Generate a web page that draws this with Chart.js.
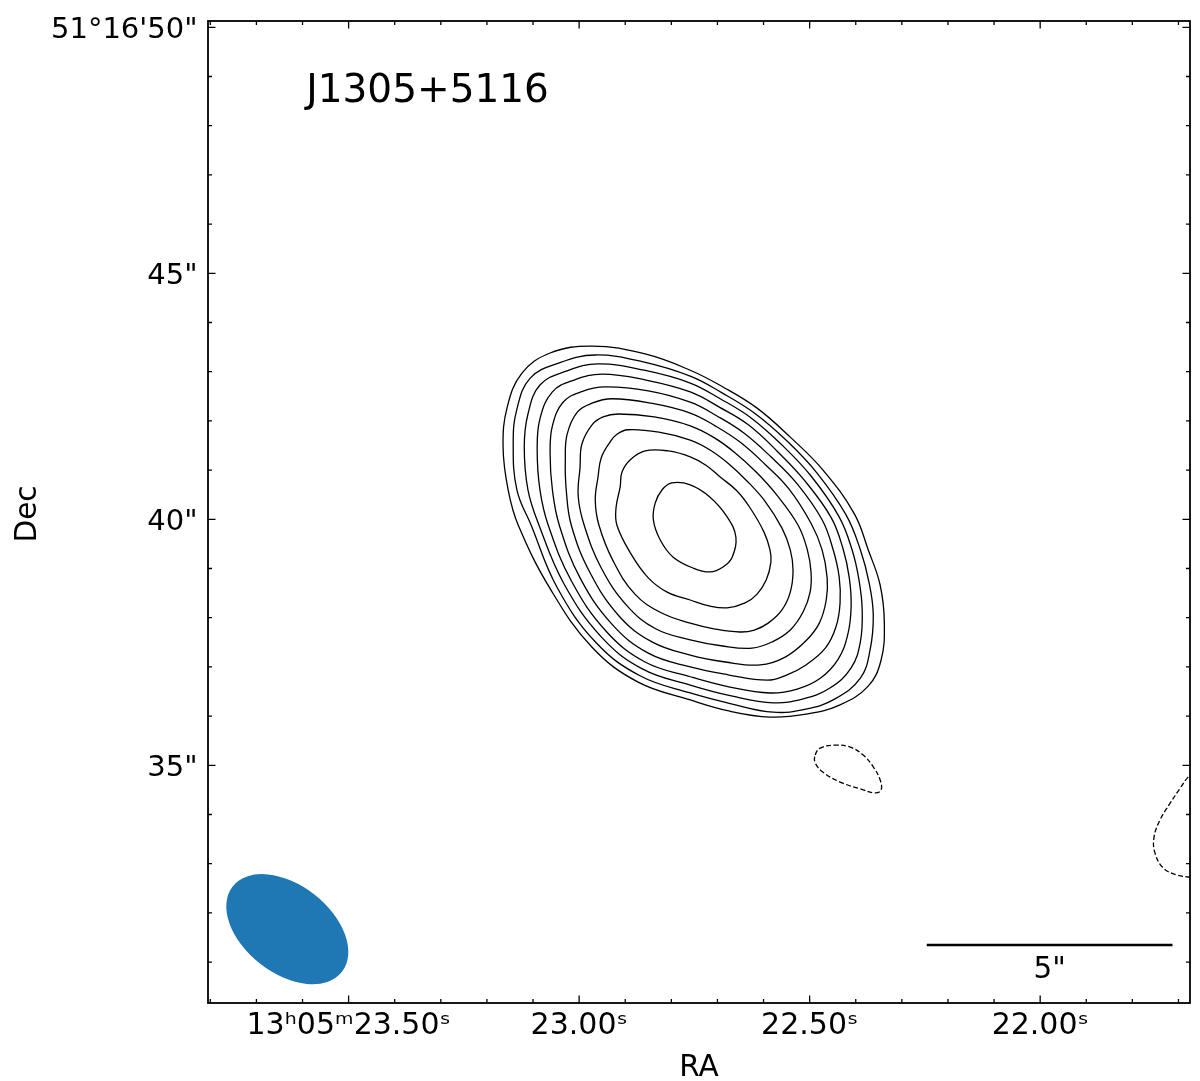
<!DOCTYPE html>
<html>
<head>
<meta charset="utf-8">
<title>J1305+5116</title>
<script src="https://cdn.jsdelivr.net/npm/chart.js@4.4.1/dist/chart.umd.min.js"></script>
<style>
  html, body { margin: 0; padding: 0; background: #fff; }
  #wrap { position: relative; width: 1200px; height: 1081px; }
</style>
</head>
<body>
<div id="wrap"><canvas id="map"></canvas></div>
<script>
// Map window: RA in seconds after 13h05m, Dec in arcsec after 51°16'
const raMin = 21.675, raMax = 23.805;
const decMin = 30.169, decMax = 50.128;

// Tick marks and labels
const raTickValues = [23.5, 23.0, 22.5, 22.0];
const raTickLabels = ['13ʰ05ᵐ23.50ˢ', '23.00ˢ', '22.50ˢ', '22.00ˢ'];
const raMinorStep = 0.1;
const decTickValues = [50, 45, 40, 35];
const decTickLabels = ['51°16\'50"', '45"', '40"', '35"'];
const decMinorStep = 1;

const sourceName = 'J1305+5116';

// Restoring beam (FWHM, arcsec) and where it is drawn
const beamMajor = 2.82, beamMinor = 1.79, beamPA = 52;
const beamRA = 23.633, beamDec = 31.67;

// 5" scale bar
const scaleBarRA = [22.246, 21.713];
const scaleBarDec = 31.35;
const scaleBarLabel = '5"';

// Positive contours, outermost first: [RA s, Dec "]
const contour1 = [[23.165,41.47],[23.156,42.28],[23.124,42.97],[23.063,43.38],[22.972,43.52],[22.857,43.36],[22.759,43.03],[22.688,42.69],[22.614,42.26],[22.542,41.67],[22.471,41.00],[22.403,40.11],[22.373,39.38],[22.347,38.66],[22.338,37.89],[22.345,37.14],[22.373,36.61],[22.434,36.23],[22.508,36.04],[22.586,35.98],[22.673,36.10],[22.759,36.33],[22.872,36.69],[22.972,37.40],[23.061,38.56],[23.132,39.88],[23.154,40.60]];
const contour2 = [[23.143,41.55],[23.135,42.24],[23.106,42.87],[23.043,43.18],[22.965,43.34],[22.861,43.20],[22.759,42.91],[22.690,42.57],[22.620,42.16],[22.549,41.59],[22.484,40.94],[22.421,40.09],[22.390,39.38],[22.371,38.71],[22.362,38.06],[22.369,37.34],[22.390,36.77],[22.445,36.35],[22.508,36.14],[22.579,36.08],[22.670,36.25],[22.759,36.47],[22.868,36.82],[22.963,37.49],[23.048,38.62],[23.104,39.88],[23.135,40.60]];
const contour3 = [[23.119,41.47],[23.111,42.14],[23.085,42.73],[23.028,43.01],[22.959,43.16],[22.859,43.03],[22.759,42.77],[22.694,42.45],[22.627,42.06],[22.560,41.51],[22.497,40.88],[22.436,40.05],[22.408,39.38],[22.393,38.77],[22.386,38.16],[22.390,37.51],[22.410,36.98],[22.456,36.57],[22.514,36.35],[22.579,36.27],[22.670,36.41],[22.759,36.63],[22.863,36.96],[22.952,37.61],[23.033,38.69],[23.087,39.88],[23.111,40.60]];
const contour4 = [[23.091,41.41],[23.085,42.04],[23.058,42.59],[23.011,42.83],[22.950,42.95],[22.855,42.83],[22.759,42.59],[22.696,42.28],[22.633,41.92],[22.571,41.39],[22.512,40.80],[22.453,40.03],[22.427,39.38],[22.414,38.81],[22.410,38.24],[22.417,37.67],[22.438,37.16],[22.477,36.77],[22.527,36.55],[22.586,36.47],[22.673,36.59],[22.759,36.80],[22.857,37.10],[22.942,37.73],[23.017,38.75],[23.067,39.88],[23.085,40.60]];
const contour5 = [[23.063,41.35],[23.058,41.90],[23.035,42.38],[22.996,42.59],[22.944,42.69],[22.850,42.61],[22.759,42.38],[22.701,42.10],[22.642,41.75],[22.584,41.27],[22.527,40.72],[22.473,39.99],[22.449,39.38],[22.436,38.83],[22.434,38.30],[22.443,37.81],[22.466,37.38],[22.508,37.04],[22.549,36.84],[22.592,36.73],[22.677,36.84],[22.759,37.00],[22.850,37.28],[22.929,37.87],[22.998,38.81],[23.043,39.88],[23.058,40.60]];
const contour6 = [[23.030,41.21],[23.026,41.73],[23.004,42.18],[22.972,42.36],[22.929,42.45],[22.844,42.36],[22.759,42.16],[22.705,41.90],[22.651,41.57],[22.597,41.12],[22.545,40.62],[22.497,39.92],[22.473,39.38],[22.462,38.81],[22.464,38.36],[22.479,37.89],[22.508,37.53],[22.553,37.20],[22.607,37.04],[22.683,37.10],[22.759,37.24],[22.842,37.51],[22.913,38.03],[22.976,38.91],[23.017,39.88],[23.028,40.60]];
const contour7 = [[22.998,41.06],[22.994,41.53],[22.972,41.92],[22.948,42.08],[22.915,42.14],[22.837,42.08],[22.759,41.90],[22.709,41.67],[22.664,41.37],[22.616,40.96],[22.571,40.49],[22.525,39.88],[22.505,39.38],[22.497,38.93],[22.499,38.52],[22.514,38.12],[22.542,37.75],[22.581,37.51],[22.625,37.38],[22.692,37.43],[22.759,37.55],[22.833,37.77],[22.896,38.24],[22.952,39.01],[22.989,39.88],[23.002,40.47]];
const contour8 = [[22.959,40.86],[22.952,41.25],[22.933,41.57],[22.918,41.73],[22.894,41.82],[22.827,41.77],[22.759,41.61],[22.716,41.41],[22.677,41.14],[22.636,40.78],[22.597,40.37],[22.560,39.82],[22.542,39.38],[22.536,38.97],[22.542,38.52],[22.560,38.16],[22.590,37.89],[22.620,37.75],[22.651,37.71],[22.705,37.77],[22.759,37.89],[22.822,38.10],[22.879,38.48],[22.926,39.15],[22.957,39.88],[22.965,40.39]];
const contour9 = [[22.911,40.66],[22.907,40.96],[22.889,41.21],[22.857,41.39],[22.807,41.39],[22.759,41.27],[22.725,41.10],[22.694,40.86],[22.658,40.58],[22.629,40.23],[22.599,39.74],[22.586,39.38],[22.584,39.13],[22.594,38.77],[22.614,38.48],[22.640,38.30],[22.679,38.20],[22.718,38.24],[22.759,38.36],[22.809,38.52],[22.850,38.81],[22.889,39.32],[22.918,39.88],[22.920,40.23]];
const contour10 = [[22.839,39.99],[22.835,40.33],[22.820,40.60],[22.799,40.74],[22.759,40.70],[22.716,40.45],[22.679,40.05],[22.660,39.64],[22.668,39.23],[22.688,39.03],[22.716,38.93],[22.753,39.01],[22.796,39.23],[22.824,39.58]];

// Negative contours (dashed)
const negContour1 = [[22.488,35.21],[22.477,35.35],[22.445,35.41],[22.412,35.37],[22.384,35.21],[22.362,34.97],[22.347,34.70],[22.345,34.50],[22.358,34.44],[22.390,34.52],[22.434,34.66],[22.471,34.86],[22.488,35.05]];
// runs off the east edge of the map
const negContour2 = [[21.653,34.95],[21.679,34.76],[21.696,34.54],[21.718,34.23],[21.740,33.89],[21.753,33.54],[21.751,33.22],[21.733,32.91],[21.703,32.77],[21.679,32.73],[21.653,32.71]];

const positiveContours = [contour1, contour2, contour3, contour4, contour5, contour6, contour7, contour8, contour9, contour10];

const FONT = '"DejaVu Sans", "Liberation Sans", sans-serif';

function toXY(pts) {
  return pts.map(p => ({ x: p[0], y: p[1] }));
}

// wrap the ring so every visible point gets proper neighbours for the spline,
// then hide the two helper segments at the ends
function contourDataset(pts, closed, dashed) {
  const ring = closed ? [pts[pts.length - 1], ...pts, pts[0], pts[1]] : pts;
  const data = toXY(ring);
  const last = data.length - 1;
  const ds = {
    data,
    showLine: true,
    pointRadius: 0,
    borderColor: '#000',
    borderWidth: 1.3,
    borderDash: dashed ? [5, 2.5] : [],
    tension: 0.4
  };
  if (closed) {
    ds.segment = {
      borderColor: c => (c.p0DataIndex === 0 || c.p1DataIndex === last) ? 'rgba(0,0,0,0)' : '#000'
    };
  }
  return ds;
}

const datasets = [
  ...positiveContours.map(c => contourDataset(c, true, false)),
  contourDataset(negContour1, true, true),
  contourDataset(negContour2, false, true),
  {
    data: scaleBarRA.map(r => ({ x: r, y: scaleBarDec })),
    showLine: true,
    pointRadius: 0,
    borderColor: '#000',
    borderWidth: 2.5,
    tension: 0
  }
];

const skyFrame = {
  id: 'skyFrame',
  beforeDatasetsDraw(chart) {
    const { ctx, scales: { x, y } } = chart;
    const cx = x.getPixelForValue(beamRA);
    const cy = y.getPixelForValue(beamDec);
    const pxPerArcsec = Math.abs(y.getPixelForValue(beamDec + 1) - cy);
    const pa = beamPA * Math.PI / 180;
    // east is to the left, north is up
    const rot = Math.atan2(-Math.cos(pa), -Math.sin(pa));
    ctx.save();
    ctx.fillStyle = '#1f77b4';
    ctx.beginPath();
    ctx.ellipse(cx, cy, beamMajor / 2 * pxPerArcsec, beamMinor / 2 * pxPerArcsec, rot, 0, Math.PI * 2);
    ctx.fill();
    ctx.restore();
  },
  afterDraw(chart) {
    const { ctx, chartArea: a, scales: { x, y } } = chart;
    ctx.save();

    // frame
    ctx.strokeStyle = '#000';
    ctx.lineWidth = 1.8;
    ctx.strokeRect(a.left, a.top, a.right - a.left, a.bottom - a.top);

    // inward ticks on all four sides
    const tick = (px, len, vertical) => {
      ctx.beginPath();
      if (vertical) {
        ctx.moveTo(px, a.bottom); ctx.lineTo(px, a.bottom - len);
        ctx.moveTo(px, a.top); ctx.lineTo(px, a.top + len);
      } else {
        ctx.moveTo(a.left, px); ctx.lineTo(a.left + len, px);
        ctx.moveTo(a.right, px); ctx.lineTo(a.right - len, px);
      }
      ctx.stroke();
    };
    ctx.lineWidth = 1.3;
    const lo = Math.min(raMin, raMax), hi = Math.max(raMin, raMax);
    for (let k = Math.ceil(lo / raMinorStep - 1e-6); k * raMinorStep <= hi + 1e-9; k++) {
      const v = +(k * raMinorStep).toFixed(3);
      const major = raTickValues.some(t => Math.abs(t - v) < 1e-6);
      tick(x.getPixelForValue(v), major ? 7.5 : 4, true);
    }
    for (let k = Math.ceil(decMin / decMinorStep); k * decMinorStep <= decMax; k++) {
      const v = k * decMinorStep;
      const major = decTickValues.some(t => Math.abs(t - v) < 1e-6);
      tick(y.getPixelForValue(v), major ? 7.5 : 4, false);
    }

    // tick labels
    ctx.fillStyle = '#000';
    ctx.textBaseline = 'alphabetic';
    ctx.font = '30px ' + FONT;
    ctx.textAlign = 'center';
    raTickValues.forEach((v, i) => {
      ctx.fillText(raTickLabels[i], x.getPixelForValue(v), a.bottom + 30.5);
    });
    ctx.font = '29px ' + FONT;
    ctx.textAlign = 'right';
    decTickValues.forEach((v, i) => {
      ctx.fillText(decTickLabels[i], a.left - 10.5, y.getPixelForValue(v) + 10.5);
    });

    // axis titles
    ctx.font = '29.5px ' + FONT;
    ctx.textAlign = 'center';
    ctx.fillText('RA', (a.left + a.right) / 2, 1076);
    ctx.save();
    ctx.translate(36, (a.top + a.bottom) / 2 + 2);
    ctx.rotate(-Math.PI / 2);
    ctx.fillText('Dec', 0, 0);
    ctx.restore();

    // scale bar label
    const barMid = (x.getPixelForValue(scaleBarRA[0]) + x.getPixelForValue(scaleBarRA[1])) / 2;
    ctx.fillText(scaleBarLabel, barMid, y.getPixelForValue(scaleBarDec) + 33);

    // source name
    ctx.font = '39px ' + FONT;
    ctx.textAlign = 'left';
    ctx.fillText(sourceName, a.left + 0.1 * (a.right - a.left), a.top + 81);

    ctx.restore();
  }
};

new Chart(document.getElementById('map'), {
  type: 'scatter',
  data: { datasets },
  options: {
    responsive: true,
    maintainAspectRatio: false,
    animation: false,
    events: [],
    layout: { padding: { left: 208, top: 21, right: 10, bottom: 78 } },
    plugins: {
      legend: { display: false },
      tooltip: { enabled: false }
    },
    scales: {
      x: { type: 'linear', display: false, min: raMin, max: raMax, reverse: true },
      y: { type: 'linear', display: false, min: decMin, max: decMax }
    }
  },
  plugins: [skyFrame]
});
</script>
</body>
</html>
